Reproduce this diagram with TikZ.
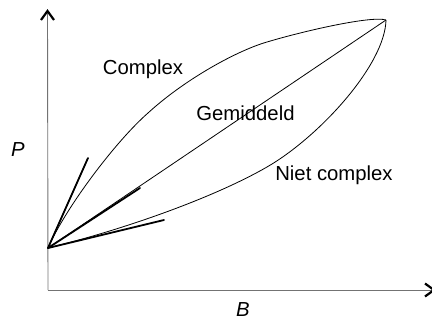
\documentclass[tikz,border=0pt]{standalone}
\usepackage{fontspec}
\setmainfont{Liberation Sans}
\begin{document}
\begin{tikzpicture}[x=1pt,y=-1pt,
  axis/.style={draw=black!55,line width=0.9pt},
  head/.style={draw=black,line width=2.2pt,line cap=butt,line join=miter},
  curve/.style={draw=black,line width=0.8pt},
  tangent/.style={draw=black,line width=1.8pt,line cap=round},
  lbl/.style={anchor=base,inner sep=0pt,font=\fontsize{20.3}{24}\selectfont}]
\useasboundingbox (0,0) rectangle (432,322);
\coordinate (O) at (48,290);
\coordinate (ytip) at (47.5,11);
\coordinate (xtip) at (434,290);
\coordinate (A) at (48,248);
\coordinate (E) at (386,20);
\coordinate (tu) at (88,158);
\coordinate (tm) at (140,188);
\coordinate (tl) at (164,220);
\draw[axis] (O) -- (ytip);
\draw[axis] (O) -- (xtip);
\draw[head] ([xshift=-6.5pt,yshift=-9pt]ytip) -- (ytip) -- ([xshift=6.5pt,yshift=-9pt]ytip);
\draw[head] ([xshift=-9pt,yshift=6.5pt]xtip) -- (xtip) -- ([xshift=-9pt,yshift=-6.5pt]xtip);
% Complex (upper) curve
\draw[curve] (A) .. controls (66,207) and (116,141) .. (148,113)
  .. controls (184,80) and (236,51) .. (267,42)
  .. controls (305,30.6) and (372,15.5) .. (E);
% Niet complex (lower) curve
\draw[curve] (A) .. controls (126,229) and (215,197) .. (267,167)
  .. controls (319,137) and (385,65) .. (E);
% Gemiddeld
\draw[curve] (A) -- (E);
% tangents
\draw[tangent] (A) -- (tu);
\draw[tangent] (A) -- (tm);
\draw[tangent] (A) -- (tl);
\node[lbl] (complex) at (143,74) {Complex};
\node[lbl] (gem) at (245.5,120) {Gemiddeld};
\node[lbl] (niet) at (334,180.7) {Niet complex};
\node[lbl] (P) at (18,156.5) {\itshape P};
\node[lbl] (B) at (243,316.5) {\itshape B};
\end{tikzpicture}
\end{document}
